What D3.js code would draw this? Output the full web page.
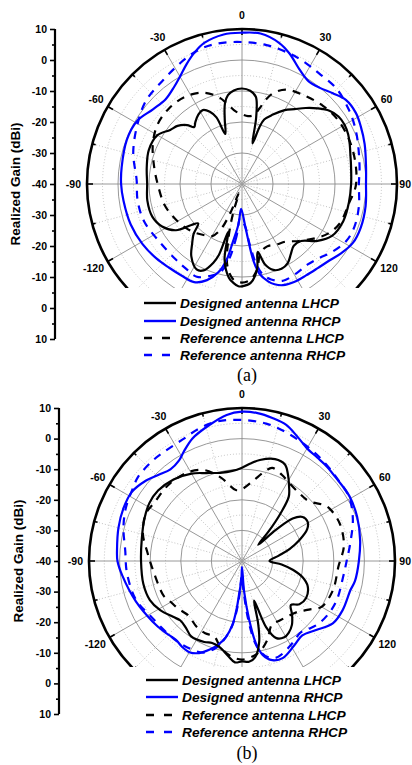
<!DOCTYPE html>
<html>
<head>
<meta charset="utf-8">
<script src="https://cdn.jsdelivr.net/npm/d3@7"></script>
<style>
  body{ margin:0; background:#fff; }
  svg{ display:block; }
  text{ font-family: Arial, "Liberation Sans", sans-serif; }
</style>
</head>
<body>
<svg id="chart" width="412" height="765"></svg>
<script>
// realized gain patterns, [angle in degrees, gain in dBi]

// (a)
var aDesLHCP = [[-178,-7],[-175,-8],[-172,-9.5],[-167,-15],[-164,-24],[-162,-16],[-160,-13],[-156,-9.5],[-152,-8.8],
  [-145,-11.5],[-140,-15],[-136,-17.5],[-132,-21],[-129,-19],[-125,-14],[-118,-10.8],[-110,-9.2],[-100,-9],[-90,-9.4],
  [-80,-8.8],[-70,-8],[-60,-8.5],[-53,-11],[-48,-12],[-43,-14],[-40,-16],[-37,-15],[-32,-13.5],[-28,-13],[-24,-14.5],
  [-21,-17],[-18.5,-23],[-15,-18.5],[-12,-13.5],[-9,-11],[-5,-9.7],[0,-9.2],[5,-9.8],[9,-11.5],[12,-18],[14.5,-26.5],
  [17,-21],[19,-18],[24,-15.5],[30,-12.5],[35,-10.5],[40,-8],[45,-5.5],[50,-3.2],[55,-2],[60,-1.8],[65,-2.2],[70,-3],
  [75,-3.8],[80,-4.3],[90,-4.8],[100,-5],[110,-5.2],[120,-6.5],[127,-9.5],[134,-13.5],[140,-14],[145,-12.5],[150,-10.5],
  [155,-9.8],[160,-10.5],[164,-13],[167,-17.5],[170,-12],[175,-8],[180,-7]]

var aDesRHCP = [[-178,-32],[-175,-27],[-171,-21],[-168.5,-15],[-165,-10.5],[-160,-7],[-154,-4.8],[-147,-4.6],[-139,-4.2],
  [-131,-3.4],[-121,-2.5],[-110,-1.8],[-98,-1.4],[-90,-1],[-82,-0.8],[-69,-0.2],[-59,-0.5],[-50,-2.5],[-42,-3.2],
  [-35,-1.8],[-30,0],[-25,2.5],[-20,5],[-15,7.1],[-7,8.6],[0,8.8],[7,8.9],[15,7],[20,4.8],[27,1.2],[33,-0.5],[39,-0.1],
  [45,1.4],[51,3.1],[58,3.3],[64,2.6],[72,1.6],[82,0.4],[90,0],[100,0.5],[110,0.8],[118,0.5],[125,-1],[131,-2.5],
  [138,-3.5],[145,-4],[152,-4.2],[158,-4.8],[162,-6],[165,-7.5],[169,-10.5],[171.5,-15],[173.7,-22],[176,-27]]

var aRefLHCP = [[-175,-9],[-170,-13],[-166,-22],[-163,-30],[-161,-37],[-158,-30],[-155,-24],[-150,-20.5],[-143,-19.4],
  [-135,-18],[-128,-17],[-117,-15.6],[-105,-14.1],[-90,-12.8],[-80,-11.3],[-66,-8.5],[-55,-6.7],[-44,-6.1],[-33,-6.4],
  [-23,-8],[-15,-11],[-10,-14],[-5,-16.5],[0,-17.5],[5,-18],[9.4,-17.5],[13,-15],[16,-11.5],[19,-9],[25,-6.4],[36,-5],
  [46,-3.7],[56,-2.8],[68,-2.6],[80,-2.8],[91,-3.3],[100,-4.9],[112,-6],[120,-8],[126,-10.4],[135,-14],[143,-16.7],
  [150,-17.5],[158,-18.3],[165,-17],[170,-12],[175,-9],[180,-8.2]]

var aRefRHCP = [[-177,-29],[-174,-23],[-170,-15],[-166,-10.5],[-162,-9],[-154,-6.7],[-146,-7.3],[-139,-7.6],[-125,-7.5],
  [-111,-6.2],[-99,-5.9],[-88,-6],[-74,-3.5],[-61,-1.3],[-49,1],[-37,2.1],[-27,3.8],[-18,5.5],[-10,6],[0,5.8],[10,5.5],
  [20,4.8],[28,4.1],[35,3.5],[45,3.3],[55,2],[62,1],[69,-0.1],[82,-1.7],[90,-2.3],[101,-1.6],[111,-1.2],[119,-1.7],
  [127,-3.6],[134,-5.5],[141,-6.5],[148,-6.3],[157,-6.1],[163,-7.8],[167,-10],[170,-14],[173,-21],[175.5,-26]]

// (b)
var bDesLHCP = [[-176,-6.8],[-172,-8.5],[-165,-11],[-160,-11.5],[-155,-10.8],[-146,-10.3],[-140,-11.5],[-134,-12],
  [-129,-11],[-121,-8.8],[-113,-7.3],[-103,-6.9],[-90,-7],[-78,-6.5],[-67,-5.3],[-58,-4.3],[-50,-4.2],[-40,-5.2],
  [-30,-7],[-22,-9],[-14,-10.3],[-6,-10.4],[0,-9.5],[5,-8],[10,-6.5],[18,-5],[24,-5.5],[28,-8],[32,-11],[36,-14],
  [39,-20],[42,-27],[45,-32.5],[47.5,-25],[50,-18.4],[54,-15.5],[59,-15],[64,-16.3],[70,-20],[76,-24],[82,-28],
  [90,-31],[95,-27],[100,-23],[105,-19.5],[111,-17],[120,-15.8],[127,-16.5],[132,-18.5],[137,-16],[142,-13.5],
  [147,-12],[151,-11.5],[156,-12.4],[160,-17],[163,-26.5],[165.5,-19],[168,-13],[172,-8.4],[176,-7],[180,-7.2]]

var bDesRHCP = [[-178,-34],[-175,-29],[-173.5,-24],[-171.5,-19],[-168,-14.5],[-164,-11.5],[-160,-9.2],[-155,-6.8],
  [-150,-5.6],[-145,-5.8],[-140,-6.4],[-132,-5.6],[-124,-4.7],[-111,-2.9],[-97,-0.6],[-90,0.7],[-85,1],[-75,1.8],
  [-66,2.4],[-58,2.5],[-50,0.9],[-44,-0.8],[-38,-2],[-32,-1.2],[-28,0.5],[-22,3.2],[-13.5,5.7],[-6,8],[0,8.8],[6,8.6],
  [12,7.8],[18,6.8],[24,4.5],[30,2.5],[36,1.8],[42,1.5],[49,1],[59,1],[69,0.3],[80,-0.8],[90,-1.8],[100,-2.5],
  [105,-3.3],[116,-3.4],[124.5,-4],[133,-6.9],[141,-8.7],[148,-7.6],[157,-5.6],[163,-6.1],[167.6,-8.6],[170.4,-12.7],
  [173,-20.6],[176,-30],[180,-38]]

var bRefLHCP = [[-172,-9],[-165,-11.5],[-160,-13.7],[-153,-13.5],[-146,-13.8],[-135,-15],[-127,-14],[-119,-13],
  [-114,-12],[-98,-11],[-85,-9],[-75,-6.5],[-64,-5],[-56,-5.6],[-43,-5.4],[-30,-6.2],[-22,-8],[-14,-12],[-5,-16.7],
  [0,-16.5],[8,-13.5],[14,-10],[18,-8],[25,-9],[30,-10],[40,-11],[48,-10.7],[57,-7.1],[65,-6],[72,-5.8],[82,-6.4],
  [93,-8.4],[108,-8.8],[120,-10],[126,-13],[133,-15.5],[140,-16.5],[148,-17],[155,-17],[162,-13],[170,-9.5],[180,-7.8]]

var bRefRHCP = [[-179,-35],[-176,-30],[-174,-24],[-171,-18],[-167,-13.5],[-163,-10.2],[-157,-7.5],[-145,-6.4],
  [-135,-6.1],[-121,-5.1],[-110,-3.1],[-96,-2.2],[-85,-1.7],[-74,0.3],[-65,1.8],[-56,2.9],[-51,3.7],[-41,3.9],
  [-35,3.8],[-26,4.2],[-18,5.5],[-10,6.3],[0,6.1],[10,5.6],[20,4.3],[31,2.9],[40,2],[50,1.1],[59,0.8],[69,-1.2],
  [80,-4],[90,-5.8],[98,-6.5],[112,-6.5],[120,-6.8],[129,-7.6],[136,-9],[141,-9.8],[146,-9],[150,-8.2],[156,-7],
  [161,-6.5],[165,-7.5],[168,-9.3],[171,-13],[174,-21],[177,-30]]

var seriesNames = ["Designed antenna LHCP", "Designed antenna RHCP", "Reference antenna LHCP", "Reference antenna RHCP"]
var gainDomain = [-40, 10]
var gainTicks = [-40, -30, -20, -10, 0, 10]
var gainMinor = [-35, -25, -15, -5, 5]
var angleLabels = [-120, -90, -60, -30, 0, 30, 60, 90, 120]

var seriesColor = ["#000", "#0000ff", "#000", "#0000ff"]
var seriesDash = [null, null, "8,7", "8,7"]
var drawOrder = [3, 2, 1, 0]

var panels = [
  {id:"a", data:[aDesLHCP, aDesRHCP, aRefLHCP, aRefRHCP], cx:242, cy:184, r:155, clipY:288,
   axisX:55, titleX:15, legendX:144, legendY:[303,321,338,355], tagY:381},
  {id:"b", data:[bDesLHCP, bDesRHCP, bRefLHCP, bRefRHCP], cx:242, cy:561, r:153, clipY:667,
   axisX:59, titleX:18, legendX:146, legendY:[680,697,715,732], tagY:759}
]

var svg = d3.select("#chart")
var rad = Math.PI / 180

function drawPanel(p){
  var rScale = d3.scaleLinear().domain(gainDomain).range([0, p.r])

  svg.append("clipPath").attr("id", "clip-" + p.id)
    .append("rect")
      .attr("x", -p.cx).attr("y", -p.cy)
      .attr("width", 412).attr("height", p.clipY)

  var g = svg.append("g").attr("transform", "translate(" + p.cx + "," + p.cy + ")")
  var plot = g.append("g").attr("clip-path", "url(#clip-" + p.id + ")")

  // grid circles
  plot.selectAll(".minorRing")
    .data(gainMinor)
  .enter().append("circle")
    .attr("r", function(d){ return rScale(d) })
    .attr("fill", "none").attr("stroke", "#b4b4b4")
    .attr("stroke-width", 0.8).attr("stroke-dasharray", "1,2")

  plot.selectAll(".majorRing")
    .data(gainTicks.filter(function(d){ return d > -40 && d < 10 }))
  .enter().append("circle")
    .attr("r", function(d){ return rScale(d) })
    .attr("fill", "none").attr("stroke", "#8c8c8c").attr("stroke-width", 0.9)

  // radial grid, every 15 deg
  plot.selectAll(".spoke")
    .data(d3.range(0, 360, 15))
  .enter().append("line")
    .attr("x1", 0).attr("y1", 0)
    .attr("x2", function(d){ return p.r * Math.sin(d * rad) })
    .attr("y2", function(d){ return -p.r * Math.cos(d * rad) })
    .attr("stroke", function(d){ return d % 30 == 0 ? "#8c8c8c" : "#b4b4b4" })
    .attr("stroke-width", function(d){ return d % 30 == 0 ? 0.9 : 0.8 })
    .attr("stroke-dasharray", function(d){ return d % 30 == 0 ? null : "1,2" })

  // outer circle + inward ticks
  plot.append("circle")
    .attr("r", p.r)
    .attr("fill", "none").attr("stroke", "#000").attr("stroke-width", 2.6)

  plot.selectAll(".rimTick")
    .data(d3.range(0, 360, 15))
  .enter().append("line")
    .attr("x1", function(d){ return p.r * Math.sin(d * rad) })
    .attr("y1", function(d){ return -p.r * Math.cos(d * rad) })
    .attr("x2", function(d){ var l = d % 30 == 0 ? 6 : 3.5; return (p.r - l) * Math.sin(d * rad) })
    .attr("y2", function(d){ var l = d % 30 == 0 ? 6 : 3.5; return -(p.r - l) * Math.cos(d * rad) })
    .attr("stroke", "#000").attr("stroke-width", 1.6)

  // pattern curves
  var line = d3.lineRadial()
    .angle(function(d){ return d[0] * rad })
    .radius(function(d){ return rScale(d[1]) })
    .curve(d3.curveCatmullRomClosed.alpha(0.5))

  drawOrder.forEach(function(i){
    var pts = p.data[i].slice().sort(function(a, b){ return a[0] - b[0] })
    plot.append("path")
      .attr("d", line(pts))
      .attr("fill", "none")
      .attr("stroke", seriesColor[i])
      .attr("stroke-width", 2.2)
      .attr("stroke-dasharray", seriesDash[i])
      .attr("stroke-linejoin", "round")
  })

  // angle labels just outside the rim (kept inside the page on the right)
  angleLabels.forEach(function(a){
    var t = g.append("text")
      .text(String(a))
      .attr("font-size", "10.5px").attr("font-weight", "bold")
      .attr("text-anchor", "middle").attr("dy", "0.36em")
    var w = t.node().getComputedTextLength()
    var s = Math.sin(a * rad), c = Math.cos(a * rad)
    var x = (p.r + 6) * s + s * w / 2
    x = Math.min(x, 411 - p.cx - w / 2)
    t.attr("x", x)
     .attr("y", -(p.r + 6) * c - c * 8)
  })

  // left gain axis, mirrored about the centre
  var upper = d3.scaleLinear().domain(gainDomain).range([p.cy, p.cy - p.r])
  var lower = d3.scaleLinear().domain(gainDomain).range([p.cy, p.cy + p.r])
  var ax = svg.append("g").attr("transform", "translate(" + p.axisX + ",0)")

  ax.append("g")
    .call(d3.axisLeft(upper).tickValues(gainTicks).tickSize(5).tickPadding(3).tickFormat(function(d){ return String(d) }))
  ax.append("g")
    .call(d3.axisLeft(lower).tickValues(gainTicks.slice(1)).tickSize(5).tickPadding(3).tickFormat(function(d){ return String(d) }))
  ax.append("g")
    .call(d3.axisLeft(upper).tickValues(gainMinor).tickSize(3).tickFormat(""))
  ax.append("g")
    .call(d3.axisLeft(lower).tickValues(gainMinor).tickSize(3).tickFormat(""))

  ax.selectAll(".domain").remove()
  ax.selectAll(".tick line").attr("stroke-width", 1.6)
  ax.selectAll(".tick text")
    .attr("font-family", "Arial, 'Liberation Sans', sans-serif")
    .attr("font-size", "10.5px").attr("font-weight", "bold").attr("fill", "#000")
  ax.append("line")
    .attr("y1", p.cy - p.r).attr("y2", p.cy + p.r)
    .attr("stroke", "#000").attr("stroke-width", 2.2)

  svg.append("text")
    .attr("transform", "translate(" + p.titleX + "," + p.cy + ") rotate(-90)")
    .attr("text-anchor", "middle").attr("dy", "0.36em")
    .attr("font-size", "13.5px").attr("font-weight", "bold")
    .text("Realized Gain (dBi)")

  // legend
  var lg = svg.append("g")
  seriesNames.forEach(function(name, i){
    var y = p.legendY[i]
    lg.append("line")
      .attr("x1", p.legendX).attr("x2", p.legendX + 32)
      .attr("y1", y).attr("y2", y)
      .attr("stroke", seriesColor[i]).attr("stroke-width", 2.4)
      .attr("stroke-dasharray", seriesDash[i] ? "8,10" : null)
    lg.append("text")
      .attr("x", p.legendX + 36).attr("y", y).attr("dy", "0.36em")
      .attr("font-size", "13.7px").attr("font-weight", "bold").attr("font-style", "italic")
      .text(name)
  })

  svg.append("text")
    .attr("x", 247).attr("y", p.tagY)
    .attr("text-anchor", "middle")
    .style("font-family", "'Times New Roman', 'Liberation Serif', serif")
    .attr("font-size", "18px")
    .text("(" + p.id + ")")
}

panels.forEach(drawPanel)
</script>
</body>
</html>
